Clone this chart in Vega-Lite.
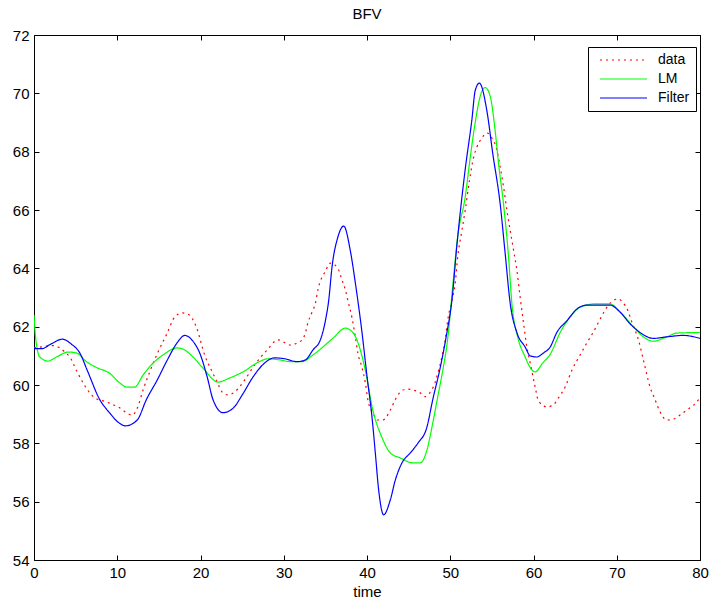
{
  "$schema": "https://vega.github.io/schema/vega-lite/v6.json",
  "autosize": "none",
  "width": 666,
  "height": 525,
  "padding": {"left": 34, "top": 35, "right": 15, "bottom": 47},
  "background": "white",
  "config": {
    "font": "Liberation Sans",
    "view": {"stroke": "black", "strokeWidth": 1},
    "axis": {
      "grid": false,
      "domain": false,
      "tickColor": "#000000",
      "tickSize": -5,
      "tickWidth": 1,
      "labelColor": "#000000",
      "labelFont": "Liberation Sans",
      "labelFontSize": 15,
      "titleFont": "Liberation Sans",
      "titleFontSize": 15,
      "titleFontWeight": "normal",
      "titleColor": "#000000"
    }
  },
  "title": {
    "text": "BFV",
    "font": "Liberation Sans",
    "fontSize": 15,
    "fontWeight": "normal",
    "color": "#000000",
    "offset": 6
  },
  "datasets": {
    "bfv": [
      {"time": 0, "value": 61.27, "series": "data"},
      {"time": 0.7, "value": 61.3, "series": "data"},
      {"time": 2.3, "value": 61.35, "series": "data"},
      {"time": 3.1, "value": 61.27, "series": "data"},
      {"time": 3.7, "value": 61.13, "series": "data"},
      {"time": 4.3, "value": 60.96, "series": "data"},
      {"time": 5.1, "value": 60.5, "series": "data"},
      {"time": 5.9, "value": 60.07, "series": "data"},
      {"time": 7.3, "value": 59.56, "series": "data"},
      {"time": 8.7, "value": 59.42, "series": "data"},
      {"time": 10.1, "value": 59.25, "series": "data"},
      {"time": 11.8, "value": 58.97, "series": "data"},
      {"time": 12.4, "value": 59.2, "series": "data"},
      {"time": 13.1, "value": 59.83, "series": "data"},
      {"time": 13.9, "value": 60.45, "series": "data"},
      {"time": 14.9, "value": 61.13, "series": "data"},
      {"time": 16.0, "value": 61.78, "series": "data"},
      {"time": 16.9, "value": 62.33, "series": "data"},
      {"time": 17.8, "value": 62.47, "series": "data"},
      {"time": 18.5, "value": 62.43, "series": "data"},
      {"time": 19.5, "value": 61.99, "series": "data"},
      {"time": 20.5, "value": 61.03, "series": "data"},
      {"time": 21.4, "value": 60.45, "series": "data"},
      {"time": 22.0, "value": 60.1, "series": "data"},
      {"time": 22.6, "value": 59.76, "series": "data"},
      {"time": 23.3, "value": 59.66, "series": "data"},
      {"time": 24.1, "value": 59.76, "series": "data"},
      {"time": 25.3, "value": 60.17, "series": "data"},
      {"time": 26.5, "value": 60.69, "series": "data"},
      {"time": 28.0, "value": 61.2, "series": "data"},
      {"time": 29.3, "value": 61.55, "series": "data"},
      {"time": 30.2, "value": 61.44, "series": "data"},
      {"time": 30.8, "value": 61.37, "series": "data"},
      {"time": 31.6, "value": 61.44, "series": "data"},
      {"time": 32.2, "value": 61.55, "series": "data"},
      {"time": 32.6, "value": 61.78, "series": "data"},
      {"time": 32.9, "value": 62.13, "series": "data"},
      {"time": 33.4, "value": 62.5, "series": "data"},
      {"time": 33.8, "value": 62.8, "series": "data"},
      {"time": 34.1, "value": 63.26, "series": "data"},
      {"time": 35.0, "value": 63.9, "series": "data"},
      {"time": 35.6, "value": 64.18, "series": "data"},
      {"time": 36.5, "value": 64.0, "series": "data"},
      {"time": 37.0, "value": 63.6, "series": "data"},
      {"time": 37.4, "value": 63.26, "series": "data"},
      {"time": 37.7, "value": 62.9, "series": "data"},
      {"time": 38.2, "value": 62.3, "series": "data"},
      {"time": 38.6, "value": 61.65, "series": "data"},
      {"time": 38.9, "value": 61.1, "series": "data"},
      {"time": 39.4, "value": 60.6, "series": "data"},
      {"time": 39.8, "value": 60.07, "series": "data"},
      {"time": 40.1, "value": 59.5, "series": "data"},
      {"time": 40.7, "value": 59.04, "series": "data"},
      {"time": 41.3, "value": 58.8, "series": "data"},
      {"time": 41.9, "value": 58.8, "series": "data"},
      {"time": 42.8, "value": 59.14, "series": "data"},
      {"time": 43.4, "value": 59.5, "series": "data"},
      {"time": 44.0, "value": 59.76, "series": "data"},
      {"time": 44.8, "value": 59.86, "series": "data"},
      {"time": 45.5, "value": 59.83, "series": "data"},
      {"time": 46.4, "value": 59.73, "series": "data"},
      {"time": 47.0, "value": 59.6, "series": "data"},
      {"time": 47.6, "value": 59.76, "series": "data"},
      {"time": 48.2, "value": 60.1, "series": "data"},
      {"time": 48.5, "value": 60.4, "series": "data"},
      {"time": 49.0, "value": 60.96, "series": "data"},
      {"time": 49.4, "value": 61.55, "series": "data"},
      {"time": 49.7, "value": 62.23, "series": "data"},
      {"time": 50.2, "value": 62.9, "series": "data"},
      {"time": 50.6, "value": 63.5, "series": "data"},
      {"time": 50.9, "value": 64.4, "series": "data"},
      {"time": 51.4, "value": 65.3, "series": "data"},
      {"time": 51.8, "value": 66.0, "series": "data"},
      {"time": 52.3, "value": 67.0, "series": "data"},
      {"time": 52.8, "value": 67.8, "series": "data"},
      {"time": 53.2, "value": 68.16, "series": "data"},
      {"time": 53.8, "value": 68.47, "series": "data"},
      {"time": 54.4, "value": 68.64, "series": "data"},
      {"time": 55.0, "value": 68.47, "series": "data"},
      {"time": 55.6, "value": 68.06, "series": "data"},
      {"time": 56.0, "value": 67.47, "series": "data"},
      {"time": 56.4, "value": 66.8, "series": "data"},
      {"time": 56.8, "value": 66.0, "series": "data"},
      {"time": 57.2, "value": 65.3, "series": "data"},
      {"time": 57.6, "value": 64.63, "series": "data"},
      {"time": 58.0, "value": 63.94, "series": "data"},
      {"time": 58.4, "value": 63.0, "series": "data"},
      {"time": 58.8, "value": 62.13, "series": "data"},
      {"time": 59.2, "value": 61.3, "series": "data"},
      {"time": 59.6, "value": 60.76, "series": "data"},
      {"time": 60.2, "value": 59.93, "series": "data"},
      {"time": 60.6, "value": 59.45, "series": "data"},
      {"time": 61.6, "value": 59.25, "series": "data"},
      {"time": 62.3, "value": 59.3, "series": "data"},
      {"time": 63.0, "value": 59.56, "series": "data"},
      {"time": 63.8, "value": 59.93, "series": "data"},
      {"time": 64.6, "value": 60.5, "series": "data"},
      {"time": 65.6, "value": 61.03, "series": "data"},
      {"time": 66.4, "value": 61.44, "series": "data"},
      {"time": 67.2, "value": 61.82, "series": "data"},
      {"time": 68.4, "value": 62.47, "series": "data"},
      {"time": 69.0, "value": 62.74, "series": "data"},
      {"time": 69.6, "value": 62.9, "series": "data"},
      {"time": 70.2, "value": 62.95, "series": "data"},
      {"time": 70.8, "value": 62.8, "series": "data"},
      {"time": 71.2, "value": 62.64, "series": "data"},
      {"time": 71.8, "value": 62.17, "series": "data"},
      {"time": 72.6, "value": 61.55, "series": "data"},
      {"time": 73.2, "value": 60.86, "series": "data"},
      {"time": 74.0, "value": 59.93, "series": "data"},
      {"time": 74.6, "value": 59.5, "series": "data"},
      {"time": 75.2, "value": 59.08, "series": "data"},
      {"time": 76.0, "value": 58.8, "series": "data"},
      {"time": 76.8, "value": 58.83, "series": "data"},
      {"time": 77.6, "value": 58.97, "series": "data"},
      {"time": 78.4, "value": 59.14, "series": "data"},
      {"time": 79.2, "value": 59.3, "series": "data"},
      {"time": 80.0, "value": 59.56, "series": "data"},

      {"time": 0, "value": 62.4, "series": "LM"},
      {"time": 0.2, "value": 61.6, "series": "LM"},
      {"time": 0.7, "value": 60.96, "series": "LM"},
      {"time": 1.7, "value": 60.82, "series": "LM"},
      {"time": 2.7, "value": 60.96, "series": "LM"},
      {"time": 4.1, "value": 61.13, "series": "LM"},
      {"time": 5.1, "value": 61.1, "series": "LM"},
      {"time": 6.3, "value": 60.8, "series": "LM"},
      {"time": 7.5, "value": 60.6, "series": "LM"},
      {"time": 9.1, "value": 60.4, "series": "LM"},
      {"time": 10.3, "value": 60.07, "series": "LM"},
      {"time": 11.1, "value": 59.93, "series": "LM"},
      {"time": 12.1, "value": 59.93, "series": "LM"},
      {"time": 13.1, "value": 60.34, "series": "LM"},
      {"time": 14.3, "value": 60.75, "series": "LM"},
      {"time": 15.5, "value": 61.03, "series": "LM"},
      {"time": 17.2, "value": 61.27, "series": "LM"},
      {"time": 17.9, "value": 61.23, "series": "LM"},
      {"time": 19.1, "value": 60.96, "series": "LM"},
      {"time": 20.3, "value": 60.58, "series": "LM"},
      {"time": 22.1, "value": 60.1, "series": "LM"},
      {"time": 23.5, "value": 60.24, "series": "LM"},
      {"time": 25.1, "value": 60.45, "series": "LM"},
      {"time": 26.8, "value": 60.76, "series": "LM"},
      {"time": 28.1, "value": 60.9, "series": "LM"},
      {"time": 29.5, "value": 60.86, "series": "LM"},
      {"time": 30.8, "value": 60.8, "series": "LM"},
      {"time": 32.2, "value": 60.8, "series": "LM"},
      {"time": 33.5, "value": 61.03, "series": "LM"},
      {"time": 35.9, "value": 61.6, "series": "LM"},
      {"time": 37.4, "value": 61.95, "series": "LM"},
      {"time": 38.3, "value": 61.8, "series": "LM"},
      {"time": 39.2, "value": 61.2, "series": "LM"},
      {"time": 39.8, "value": 60.5, "series": "LM"},
      {"time": 40.7, "value": 59.14, "series": "LM"},
      {"time": 41.8, "value": 58.2, "series": "LM"},
      {"time": 42.8, "value": 57.67, "series": "LM"},
      {"time": 44.0, "value": 57.5, "series": "LM"},
      {"time": 45.5, "value": 57.33, "series": "LM"},
      {"time": 46.4, "value": 57.33, "series": "LM"},
      {"time": 47.2, "value": 57.77, "series": "LM"},
      {"time": 47.9, "value": 58.7, "series": "LM"},
      {"time": 48.5, "value": 59.6, "series": "LM"},
      {"time": 49.1, "value": 60.5, "series": "LM"},
      {"time": 49.7, "value": 61.6, "series": "LM"},
      {"time": 50.3, "value": 63.4, "series": "LM"},
      {"time": 50.9, "value": 65.1, "series": "LM"},
      {"time": 51.8, "value": 66.45, "series": "LM"},
      {"time": 52.4, "value": 67.8, "series": "LM"},
      {"time": 53.0, "value": 69.0, "series": "LM"},
      {"time": 53.6, "value": 69.9, "series": "LM"},
      {"time": 54.2, "value": 70.2, "series": "LM"},
      {"time": 54.8, "value": 69.9, "series": "LM"},
      {"time": 55.4, "value": 68.7, "series": "LM"},
      {"time": 55.8, "value": 67.6, "series": "LM"},
      {"time": 56.4, "value": 66.2, "series": "LM"},
      {"time": 57.0, "value": 64.4, "series": "LM"},
      {"time": 57.4, "value": 62.8, "series": "LM"},
      {"time": 58.1, "value": 61.65, "series": "LM"},
      {"time": 59.0, "value": 60.96, "series": "LM"},
      {"time": 59.6, "value": 60.6, "series": "LM"},
      {"time": 60.2, "value": 60.45, "series": "LM"},
      {"time": 61.1, "value": 60.75, "series": "LM"},
      {"time": 62.0, "value": 61.05, "series": "LM"},
      {"time": 63.2, "value": 61.8, "series": "LM"},
      {"time": 64.4, "value": 62.33, "series": "LM"},
      {"time": 65.6, "value": 62.67, "series": "LM"},
      {"time": 67.4, "value": 62.78, "series": "LM"},
      {"time": 69.2, "value": 62.78, "series": "LM"},
      {"time": 70.4, "value": 62.5, "series": "LM"},
      {"time": 72.0, "value": 62.0, "series": "LM"},
      {"time": 73.2, "value": 61.65, "series": "LM"},
      {"time": 74.4, "value": 61.5, "series": "LM"},
      {"time": 76.0, "value": 61.65, "series": "LM"},
      {"time": 77.2, "value": 61.78, "series": "LM"},
      {"time": 80.0, "value": 61.8, "series": "LM"},

      {"time": 0, "value": 61.25, "series": "Filter"},
      {"time": 1.0, "value": 61.25, "series": "Filter"},
      {"time": 2.0, "value": 61.4, "series": "Filter"},
      {"time": 3.4, "value": 61.57, "series": "Filter"},
      {"time": 4.5, "value": 61.4, "series": "Filter"},
      {"time": 5.5, "value": 61.1, "series": "Filter"},
      {"time": 6.4, "value": 60.5, "series": "Filter"},
      {"time": 7.9, "value": 59.5, "series": "Filter"},
      {"time": 9.1, "value": 59.04, "series": "Filter"},
      {"time": 10.0, "value": 58.75, "series": "Filter"},
      {"time": 11.0, "value": 58.6, "series": "Filter"},
      {"time": 12.4, "value": 58.8, "series": "Filter"},
      {"time": 13.5, "value": 59.5, "series": "Filter"},
      {"time": 14.8, "value": 60.17, "series": "Filter"},
      {"time": 16.0, "value": 60.85, "series": "Filter"},
      {"time": 17.2, "value": 61.45, "series": "Filter"},
      {"time": 18.1, "value": 61.7, "series": "Filter"},
      {"time": 19.1, "value": 61.5, "series": "Filter"},
      {"time": 19.9, "value": 61.1, "series": "Filter"},
      {"time": 20.8, "value": 60.28, "series": "Filter"},
      {"time": 21.5, "value": 59.5, "series": "Filter"},
      {"time": 22.7, "value": 59.05, "series": "Filter"},
      {"time": 23.9, "value": 59.2, "series": "Filter"},
      {"time": 25.1, "value": 59.7, "series": "Filter"},
      {"time": 26.3, "value": 60.27, "series": "Filter"},
      {"time": 27.5, "value": 60.7, "series": "Filter"},
      {"time": 28.9, "value": 60.93, "series": "Filter"},
      {"time": 30.1, "value": 60.9, "series": "Filter"},
      {"time": 31.6, "value": 60.8, "series": "Filter"},
      {"time": 32.6, "value": 60.86, "series": "Filter"},
      {"time": 33.5, "value": 61.2, "series": "Filter"},
      {"time": 34.4, "value": 61.55, "series": "Filter"},
      {"time": 35.0, "value": 62.2, "series": "Filter"},
      {"time": 35.4, "value": 62.9, "series": "Filter"},
      {"time": 35.8, "value": 64.05, "series": "Filter"},
      {"time": 36.5, "value": 65.07, "series": "Filter"},
      {"time": 37.2, "value": 65.45, "series": "Filter"},
      {"time": 38.0, "value": 64.6, "series": "Filter"},
      {"time": 38.6, "value": 63.5, "series": "Filter"},
      {"time": 39.4, "value": 61.8, "series": "Filter"},
      {"time": 40.0, "value": 60.3, "series": "Filter"},
      {"time": 40.6, "value": 58.9, "series": "Filter"},
      {"time": 41.0, "value": 57.67, "series": "Filter"},
      {"time": 41.4, "value": 56.4, "series": "Filter"},
      {"time": 42.0, "value": 55.55, "series": "Filter"},
      {"time": 42.8, "value": 56.06, "series": "Filter"},
      {"time": 43.4, "value": 56.74, "series": "Filter"},
      {"time": 44.2, "value": 57.33, "series": "Filter"},
      {"time": 45.2, "value": 57.67, "series": "Filter"},
      {"time": 46.1, "value": 58.0, "series": "Filter"},
      {"time": 47.2, "value": 58.56, "series": "Filter"},
      {"time": 47.9, "value": 59.5, "series": "Filter"},
      {"time": 48.8, "value": 60.6, "series": "Filter"},
      {"time": 49.6, "value": 61.8, "series": "Filter"},
      {"time": 50.2, "value": 62.9, "series": "Filter"},
      {"time": 50.8, "value": 64.8, "series": "Filter"},
      {"time": 51.8, "value": 67.4, "series": "Filter"},
      {"time": 52.6, "value": 69.1, "series": "Filter"},
      {"time": 53.0, "value": 70.1, "series": "Filter"},
      {"time": 53.5, "value": 70.35, "series": "Filter"},
      {"time": 54.4, "value": 69.4, "series": "Filter"},
      {"time": 55.1, "value": 67.95, "series": "Filter"},
      {"time": 56.0, "value": 66.2, "series": "Filter"},
      {"time": 56.6, "value": 64.5, "series": "Filter"},
      {"time": 57.2, "value": 62.8, "series": "Filter"},
      {"time": 58.0, "value": 61.8, "series": "Filter"},
      {"time": 59.0, "value": 61.3, "series": "Filter"},
      {"time": 59.6, "value": 61.0, "series": "Filter"},
      {"time": 60.4, "value": 60.96, "series": "Filter"},
      {"time": 61.2, "value": 61.1, "series": "Filter"},
      {"time": 62.0, "value": 61.3, "series": "Filter"},
      {"time": 62.8, "value": 61.8, "series": "Filter"},
      {"time": 64.0, "value": 62.2, "series": "Filter"},
      {"time": 65.2, "value": 62.6, "series": "Filter"},
      {"time": 66.4, "value": 62.74, "series": "Filter"},
      {"time": 69.2, "value": 62.74, "series": "Filter"},
      {"time": 70.4, "value": 62.5, "series": "Filter"},
      {"time": 71.6, "value": 62.1, "series": "Filter"},
      {"time": 72.8, "value": 61.8, "series": "Filter"},
      {"time": 74.4, "value": 61.6, "series": "Filter"},
      {"time": 76.0, "value": 61.65, "series": "Filter"},
      {"time": 78.0, "value": 61.7, "series": "Filter"},
      {"time": 80.0, "value": 61.6, "series": "Filter"}
    ]
  },
  "data": {"name": "bfv"},
  "resolve": {"axis": {"x": "independent", "y": "independent"}},
  "layer": [
    {
      "mark": {"type": "line", "strokeWidth": 1.2, "interpolate": "monotone", "clip": true},
      "encoding": {
        "x": {
          "field": "time",
          "type": "quantitative",
          "scale": {"domain": [0, 80], "nice": false, "zero": false},
          "axis": {
            "orient": "bottom",
            "title": "time",
            "values": [0, 10, 20, 30, 40, 50, 60, 70, 80],
            "labelPadding": 10,
            "titlePadding": 4,
            "labelFlush": false
          }
        },
        "y": {
          "field": "value",
          "type": "quantitative",
          "scale": {"domain": [54, 72], "nice": false, "zero": false},
          "axis": {
            "orient": "left",
            "title": null,
            "values": [54, 56, 58, 60, 62, 64, 66, 68, 70, 72],
            "labelPadding": 10,
            "labelFlush": false
          }
        },
        "color": {
          "field": "series",
          "type": "nominal",
          "scale": {"domain": ["data", "LM", "Filter"], "range": ["#ff0000", "#00ff00", "#0000ff"]},
          "legend": {
            "title": null,
            "orient": "none",
            "legendX": 554,
            "legendY": 12,
            "direction": "vertical",
            "strokeColor": "#000000",
            "fillColor": "#ffffff",
            "padding": 6,
            "symbolType": "M-1,0H46",
            "symbolSize": 4,
            "symbolStrokeWidth": 1.2,
            "labelOffset": 50,
            "labelFontSize": 14,
            "labelFont": "Liberation Sans",
            "labelColor": "#000000",
            "rowPadding": 5,
            "encode": {
              "symbols": {
                "update": {
                  "strokeDash": {"signal": "datum.value === 'data' ? [2, 4] : []"}
                }
              }
            }
          }
        },
        "strokeDash": {
          "field": "series",
          "type": "nominal",
          "scale": {"domain": ["data", "LM", "Filter"], "range": [[2, 4], [1, 0], [1, 0]]},
          "legend": null
        }
      }
    },
    {
      "mark": {"type": "line", "opacity": 0},
      "encoding": {
        "x": {
          "field": "time",
          "type": "quantitative",
          "axis": {"orient": "top", "title": null, "labels": false, "values": [0, 10, 20, 30, 40, 50, 60, 70, 80]}
        },
        "y": {
          "field": "value",
          "type": "quantitative",
          "axis": {"orient": "right", "title": null, "labels": false, "values": [54, 56, 58, 60, 62, 64, 66, 68, 70, 72]}
        },
        "detail": {"field": "series", "type": "nominal"}
      }
    }
  ]
}
